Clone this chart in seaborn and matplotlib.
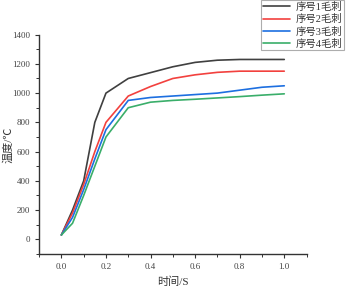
import matplotlib
matplotlib.use('Agg')
import matplotlib.pyplot as plt
import seaborn as sns
import pandas as pd
from matplotlib.ticker import MultipleLocator

time_s = [0.0, 0.05, 0.1, 0.15, 0.2, 0.3, 0.4, 0.5, 0.6, 0.7, 0.8, 0.9, 1.0]
burr1 = [30, 200, 400, 800, 1000, 1100, 1140, 1180, 1210, 1225, 1230, 1230, 1230]
burr2 = [30, 180, 375, 600, 800, 980, 1045, 1100, 1125, 1142, 1150, 1150, 1150]
burr3 = [30, 150, 340, 550, 750, 950, 970, 980, 990, 1000, 1020, 1040, 1050]
burr4 = [30, 110, 300, 500, 700, 900, 938, 950, 958, 967, 976, 986, 995]
names = ['序号1毛刺', '序号2毛刺', '序号3毛刺', '序号4毛刺']
colors = ['#404040', '#f2413e', '#1d6fe0', '#3aae6a']

df = pd.concat([
    pd.DataFrame({'时间': time_s, '温度': vals, '系列': n})
    for n, vals in zip(names, [burr1, burr2, burr3, burr4])
])

sns.set_style('ticks')
plt.rcParams['font.family'] = ['Liberation Serif', 'Noto Sans CJK SC', 'DejaVu Sans']

fig = plt.figure(figsize=(3.46, 2.86), dpi=100)
ax = fig.add_axes([0.113, 0.112, 0.773, 0.767])
sns.lineplot(data=df, x='时间', y='温度', hue='系列', palette=colors,
             linewidth=1.2, ax=ax)

ax.set_xlim(-0.1, 1.1)
ax.set_ylim(-100, 1400)
ax.xaxis.set_minor_locator(MultipleLocator(0.1))
ax.yaxis.set_major_locator(MultipleLocator(200))
ax.yaxis.set_minor_locator(MultipleLocator(100))
ax.set_xticks([0, 0.2, 0.4, 0.6, 0.8, 1.0])
ax.set_xticklabels(['0.0', '0.2', '0.4', '0.6', '0.8', '1.0'])
ax.tick_params(which='major', direction='out', length=3, width=0.8, labelsize=6.5,
               colors='#333333', labelcolor='#444444')
ax.tick_params(which='minor', direction='out', length=2, width=0.7, colors='#333333')
for s in ['top', 'right']:
    ax.spines[s].set_visible(False)
for s in ['left', 'bottom']:
    ax.spines[s].set_linewidth(1.0)
    ax.spines[s].set_color('#333333')

ax.set_xlabel('时间/S', fontsize=8, color='#333333', labelpad=4)
ax.set_ylabel('温度/℃', fontsize=8, color='#333333')
ax.yaxis.set_label_coords(-0.095, 0.5)

leg = ax.legend(loc='upper right', bbox_to_anchor=(0.995, 0.999),
                bbox_transform=fig.transFigure, fontsize=7.5, frameon=True,
                fancybox=False, borderpad=0.15, labelspacing=0.22,
                handlelength=2.6, handletextpad=0.6, borderaxespad=0)
leg.get_frame().set_edgecolor('#999999')
leg.get_frame().set_linewidth(0.8)
for t in leg.get_texts():
    t.set_color('#333333')

fig.savefig('out.png', dpi=100)
